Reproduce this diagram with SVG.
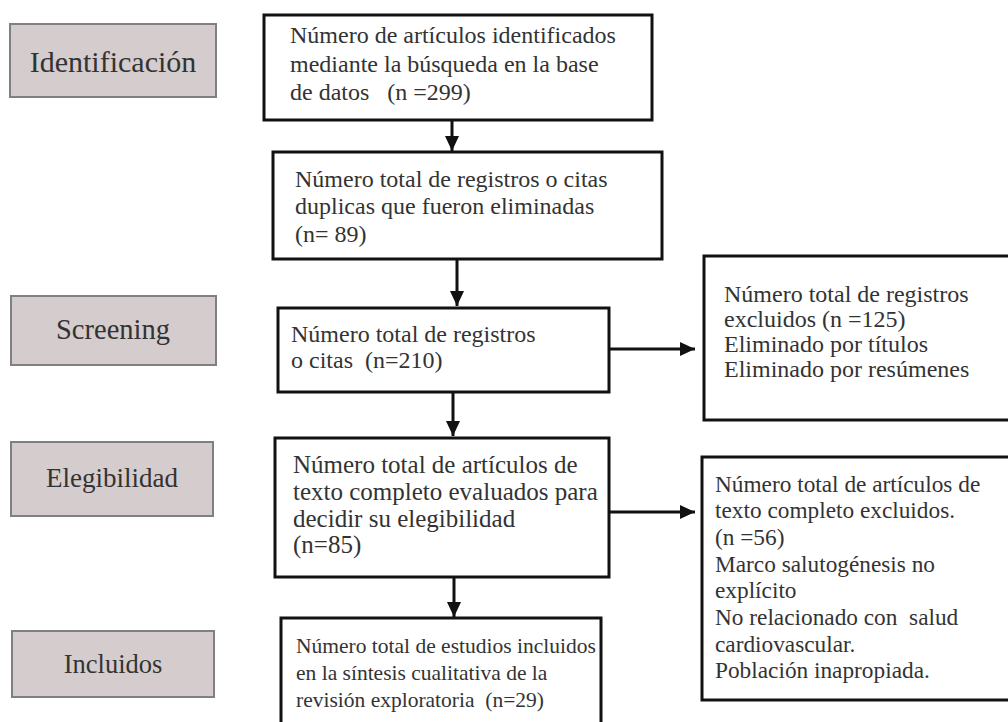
<svg xmlns="http://www.w3.org/2000/svg" width="1008" height="722" viewBox="0 0 1008 722">
<style>
.stage rect{fill:#d4cccd;stroke:#808083;stroke-width:2}
.stage text{font-family:"Liberation Serif","Times New Roman",serif;fill:#333;text-anchor:middle}
.box rect{fill:#fff;stroke:#111;stroke-width:3}
.box text{font-family:"Liberation Serif","Times New Roman",serif;fill:#333;white-space:pre}
.conn line{stroke:#111;stroke-width:3;marker-end:url(#ah)}
</style>
<defs>
<marker id="ah" markerUnits="userSpaceOnUse" markerWidth="16" markerHeight="16" refX="15" refY="7" orient="auto">
<path d="M0,0 L15,7 L0,14 z" fill="#111"/>
</marker>
</defs>
<rect width="1008" height="722" fill="#fff"/>
<g id="stage-identificacion" class="stage"><rect x="10" y="24" width="206" height="73"/><text x="113" y="72" font-size="30">Identificación</text></g>
<g id="stage-screening" class="stage"><rect x="11" y="296" width="205" height="69"/><text x="113" y="339" font-size="28.5">Screening</text></g>
<g id="stage-elegibilidad" class="stage"><rect x="11" y="442" width="202" height="74"/><text x="112" y="487" font-size="27">Elegibilidad</text></g>
<g id="stage-incluidos" class="stage"><rect x="12" y="631" width="202" height="66"/><text x="113" y="673" font-size="26.5">Incluidos</text></g>

<g id="box-identificados" class="box"><rect x="264" y="15" width="388" height="105"/>
<text font-size="24"><tspan x="290" y="43">Número de artículos identificados</tspan><tspan x="290" y="72">mediante la búsqueda en la base</tspan><tspan x="290" y="100">de datos   (n =299)</tspan></text></g>
<g id="box-duplicados" class="box"><rect x="273" y="152" width="389" height="107"/>
<text font-size="24"><tspan x="295" y="187">Número total de registros o citas</tspan><tspan x="295" y="214">duplicas que fueron eliminadas</tspan><tspan x="295" y="242">(n= 89)</tspan></text></g>
<g id="box-registros" class="box"><rect x="278" y="308" width="331" height="84"/>
<text font-size="24"><tspan x="291" y="342">Número total de registros</tspan><tspan x="291" y="368">o citas  (n=210)</tspan></text></g>
<g id="box-excluidos1" class="box"><rect x="704" y="256" width="310" height="164"/>
<text font-size="24"><tspan x="724" y="302">Número total de registros</tspan><tspan x="724" y="327">excluidos (n =125)</tspan><tspan x="724" y="352">Eliminado por títulos</tspan><tspan x="724" y="377">Eliminado por resúmenes</tspan></text></g>
<g id="box-texto-completo" class="box"><rect x="275" y="438" width="334" height="139"/>
<text font-size="25"><tspan x="293" y="473">Número total de artículos de</tspan><tspan x="293" y="500">texto completo evaluados para</tspan><tspan x="293" y="527">decidir su elegibilidad</tspan><tspan x="293" y="553">(n=85)</tspan></text></g>
<g id="box-excluidos2" class="box"><rect x="702" y="457" width="312" height="243"/>
<text font-size="23.3"><tspan x="715" y="492">Número total de artículos de</tspan><tspan x="715" y="518">texto completo excluidos.</tspan><tspan x="715" y="545">(n =56)</tspan><tspan x="715" y="572">Marco salutogénesis no</tspan><tspan x="715" y="598">explícito</tspan><tspan x="715" y="625">No relacionado con  salud</tspan><tspan x="715" y="652">cardiovascular.</tspan><tspan x="715" y="678">Población inapropiada.</tspan></text></g>
<g id="box-incluidos" class="box"><rect x="281" y="618" width="320" height="115"/>
<text font-size="21.5"><tspan x="296" y="653">Número total de estudios incluidos</tspan><tspan x="296" y="680">en la síntesis cualitativa de la</tspan><tspan x="296" y="707">revisión exploratoria  (n=29)</tspan></text></g>

<g id="connectors" class="conn">
<line x1="452" y1="120" x2="452" y2="151"/>
<line x1="457" y1="259" x2="457" y2="306"/>
<line x1="453" y1="392" x2="453" y2="436"/>
<line x1="454" y1="577" x2="454" y2="617"/>
<line x1="609" y1="349" x2="695" y2="349"/>
<line x1="609" y1="512" x2="695" y2="512"/>
</g>
</svg>
